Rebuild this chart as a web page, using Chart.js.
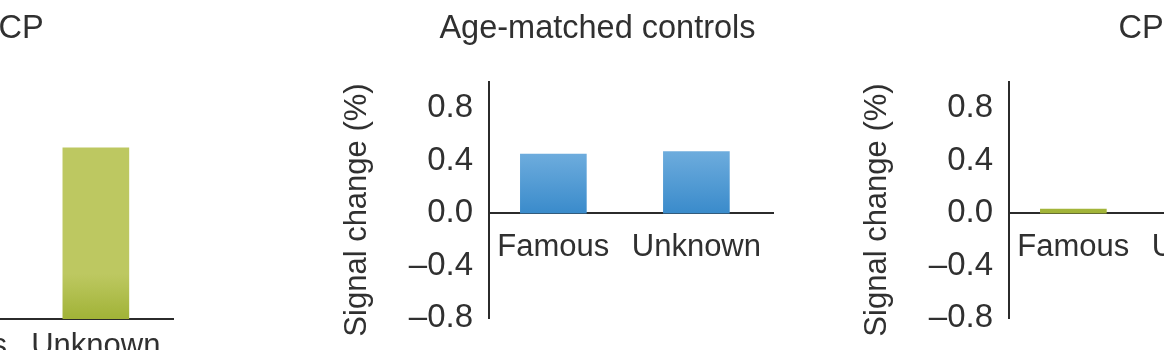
<!DOCTYPE html>
<html>
<head>
<meta charset="utf-8">
<script src="https://cdn.jsdelivr.net/npm/chart.js@4"></script>
<style>
  html, body { margin: 0; padding: 0; background: #fff; overflow: hidden; width: 1164px; height: 350px; }
  canvas { position: absolute; top: 0; }
</style>
</head>
<body>
<canvas id="cpLeft" width="447" height="350"></canvas>
<canvas id="controls" width="447" height="350"></canvas>
<canvas id="cpRight" width="447" height="350"></canvas>
<script>
// Percent signal change per condition
const categories = ['Famous', 'Unknown'];
const cpSignalLeft = [null, 1.30];     // Famous bar lies outside the visible strip
const controlSignal = [0.45, 0.47];
const cpSignalRight = [0.03, null];    // Unknown bar lies outside the visible strip

// Axis ticks
const signalTicks = [-0.8, -0.4, 0.0, 0.4, 0.8];
const signalTickLabels = ['\u20130.8', '\u20130.4', '0.0', '0.4', '0.8'];
const cpLeftTicks = [0.0, 0.4, 0.8, 1.2, 1.6];
const cpLeftTickLabels = ['0.0', '0.4', '0.8', '1.2', '1.6'];

const FONT = '"Liberation Sans", Arial, Helvetica, sans-serif';
const TEXT = '#303030';
const AXIS = '#2b2b2b';
Chart.defaults.font.family = FONT;
Chart.defaults.color = TEXT;

function finite(...v) { return v.every(Number.isFinite); }

// Blue bars shade from light at the top to deeper at the base
function blueFill(ctx) {
  const chart = ctx.chart, y = chart.scales && chart.scales.y;
  if (ctx.type !== 'data' || !y || !ctx.parsed) return '#5aa0d6';
  const top = y.getPixelForValue(ctx.parsed.y), base = y.getPixelForValue(0);
  if (!finite(top, base) || top === base) return '#5aa0d6';
  const g = chart.ctx.createLinearGradient(0, top, 0, base);
  g.addColorStop(0, '#6dacdd');
  g.addColorStop(1, '#3a8bcb');
  return g;
}

// Green bars are flat with a darker band near the base
function greenFill(ctx) {
  const chart = ctx.chart, y = chart.scales && chart.scales.y;
  if (ctx.type !== 'data' || !y) return '#bcc85f';
  const base = y.getPixelForValue(0);
  if (!finite(base)) return '#bcc85f';
  const g = chart.ctx.createLinearGradient(0, base, 0, base - 45);
  g.addColorStop(0, '#a1b337');
  g.addColorStop(1, '#bdc861');
  return g;
}

// Panel heading and rotated axis title
const panelText = {
  id: 'panelText',
  afterDraw(chart, args, opts) {
    const { ctx, chartArea } = chart;
    ctx.save();
    ctx.fillStyle = TEXT;
    ctx.textAlign = 'center';
    ctx.textBaseline = 'alphabetic';
    ctx.font = '32.5px ' + FONT;
    ctx.fillText(opts.title, chartArea.left + opts.titleDx, opts.titleBaseline);
    ctx.font = '31px ' + FONT;
    ctx.translate(chartArea.left + opts.axisDx, (chartArea.top + chartArea.bottom) / 2 + opts.axisDy);
    ctx.rotate(-Math.PI / 2);
    ctx.fillText(opts.axisTitle, 0, 0);
    ctx.restore();
  }
};

function makePanel(p) {
  const canvas = document.getElementById(p.id);
  canvas.style.left = p.left + 'px';
  return new Chart(canvas, {
    type: 'bar',
    data: {
      datasets: [{
        data: categories.map((c, i) => ({ x: i, y: p.values[i] })),
        backgroundColor: p.fill,
        borderWidth: 0,
        barThickness: 66
      }]
    },
    options: {
      responsive: false,
      animation: false,
      devicePixelRatio: 1,
      layout: { padding: { top: 82, bottom: p.padBottom, left: 0, right: 0 } },
      plugins: {
        legend: { display: false },
        tooltip: { enabled: false },
        panelText: {
          title: p.title, titleDx: p.titleDx, titleBaseline: 37.5,
          axisTitle: 'Signal change (%)', axisDx: -123, axisDy: 10
        }
      },
      scales: {
        x: {
          type: 'linear',
          min: -0.45, max: 1.54,
          offset: false,
          position: { y: 0 },
          grid: { display: false, drawTicks: false, offset: false },
          border: { display: true, color: AXIS, width: 2 },
          afterBuildTicks: s => { s.ticks = categories.map((c, i) => ({ value: i })); },
          ticks: {
            autoSkip: false, maxRotation: 0, padding: p.xPad,
            font: { size: 31 }, color: TEXT,
            callback: v => categories[v]
          }
        },
        y: {
          min: p.yMin, max: p.yMax,
          grid: { display: false, drawTicks: false },
          border: { display: true, color: AXIS, width: 2 },
          afterBuildTicks: s => { s.ticks = p.ticks.map(v => ({ value: v })); },
          afterFit: s => { s.width = 159; s.paddingTop = 0; s.paddingBottom = 0; },
          ticks: {
            autoSkip: false, padding: 16,
            font: { size: 33 }, color: TEXT,
            callback: (v, i) => p.tickLabels[i]
          }
        }
      }
    },
    plugins: [panelText]
  });
}

makePanel({ id: 'cpLeft', left: -273, title: 'CP', titleDx: 135, values: cpSignalLeft, fill: greenFill,
  yMin: 0, yMax: 1.8, ticks: cpLeftTicks, tickLabels: cpLeftTickLabels, padBottom: 31, xPad: 9 });
makePanel({ id: 'controls', left: 330, title: 'Age-matched controls', titleDx: 108.5, values: controlSignal, fill: blueFill,
  yMin: -0.8, yMax: 1.0, ticks: signalTicks, tickLabels: signalTickLabels, padBottom: 32, xPad: 16 });
makePanel({ id: 'cpRight', left: 850, title: 'CP', titleDx: 132, values: cpSignalRight, fill: greenFill,
  yMin: -0.8, yMax: 1.0, ticks: signalTicks, tickLabels: signalTickLabels, padBottom: 32, xPad: 16 });
</script>
</body>
</html>
